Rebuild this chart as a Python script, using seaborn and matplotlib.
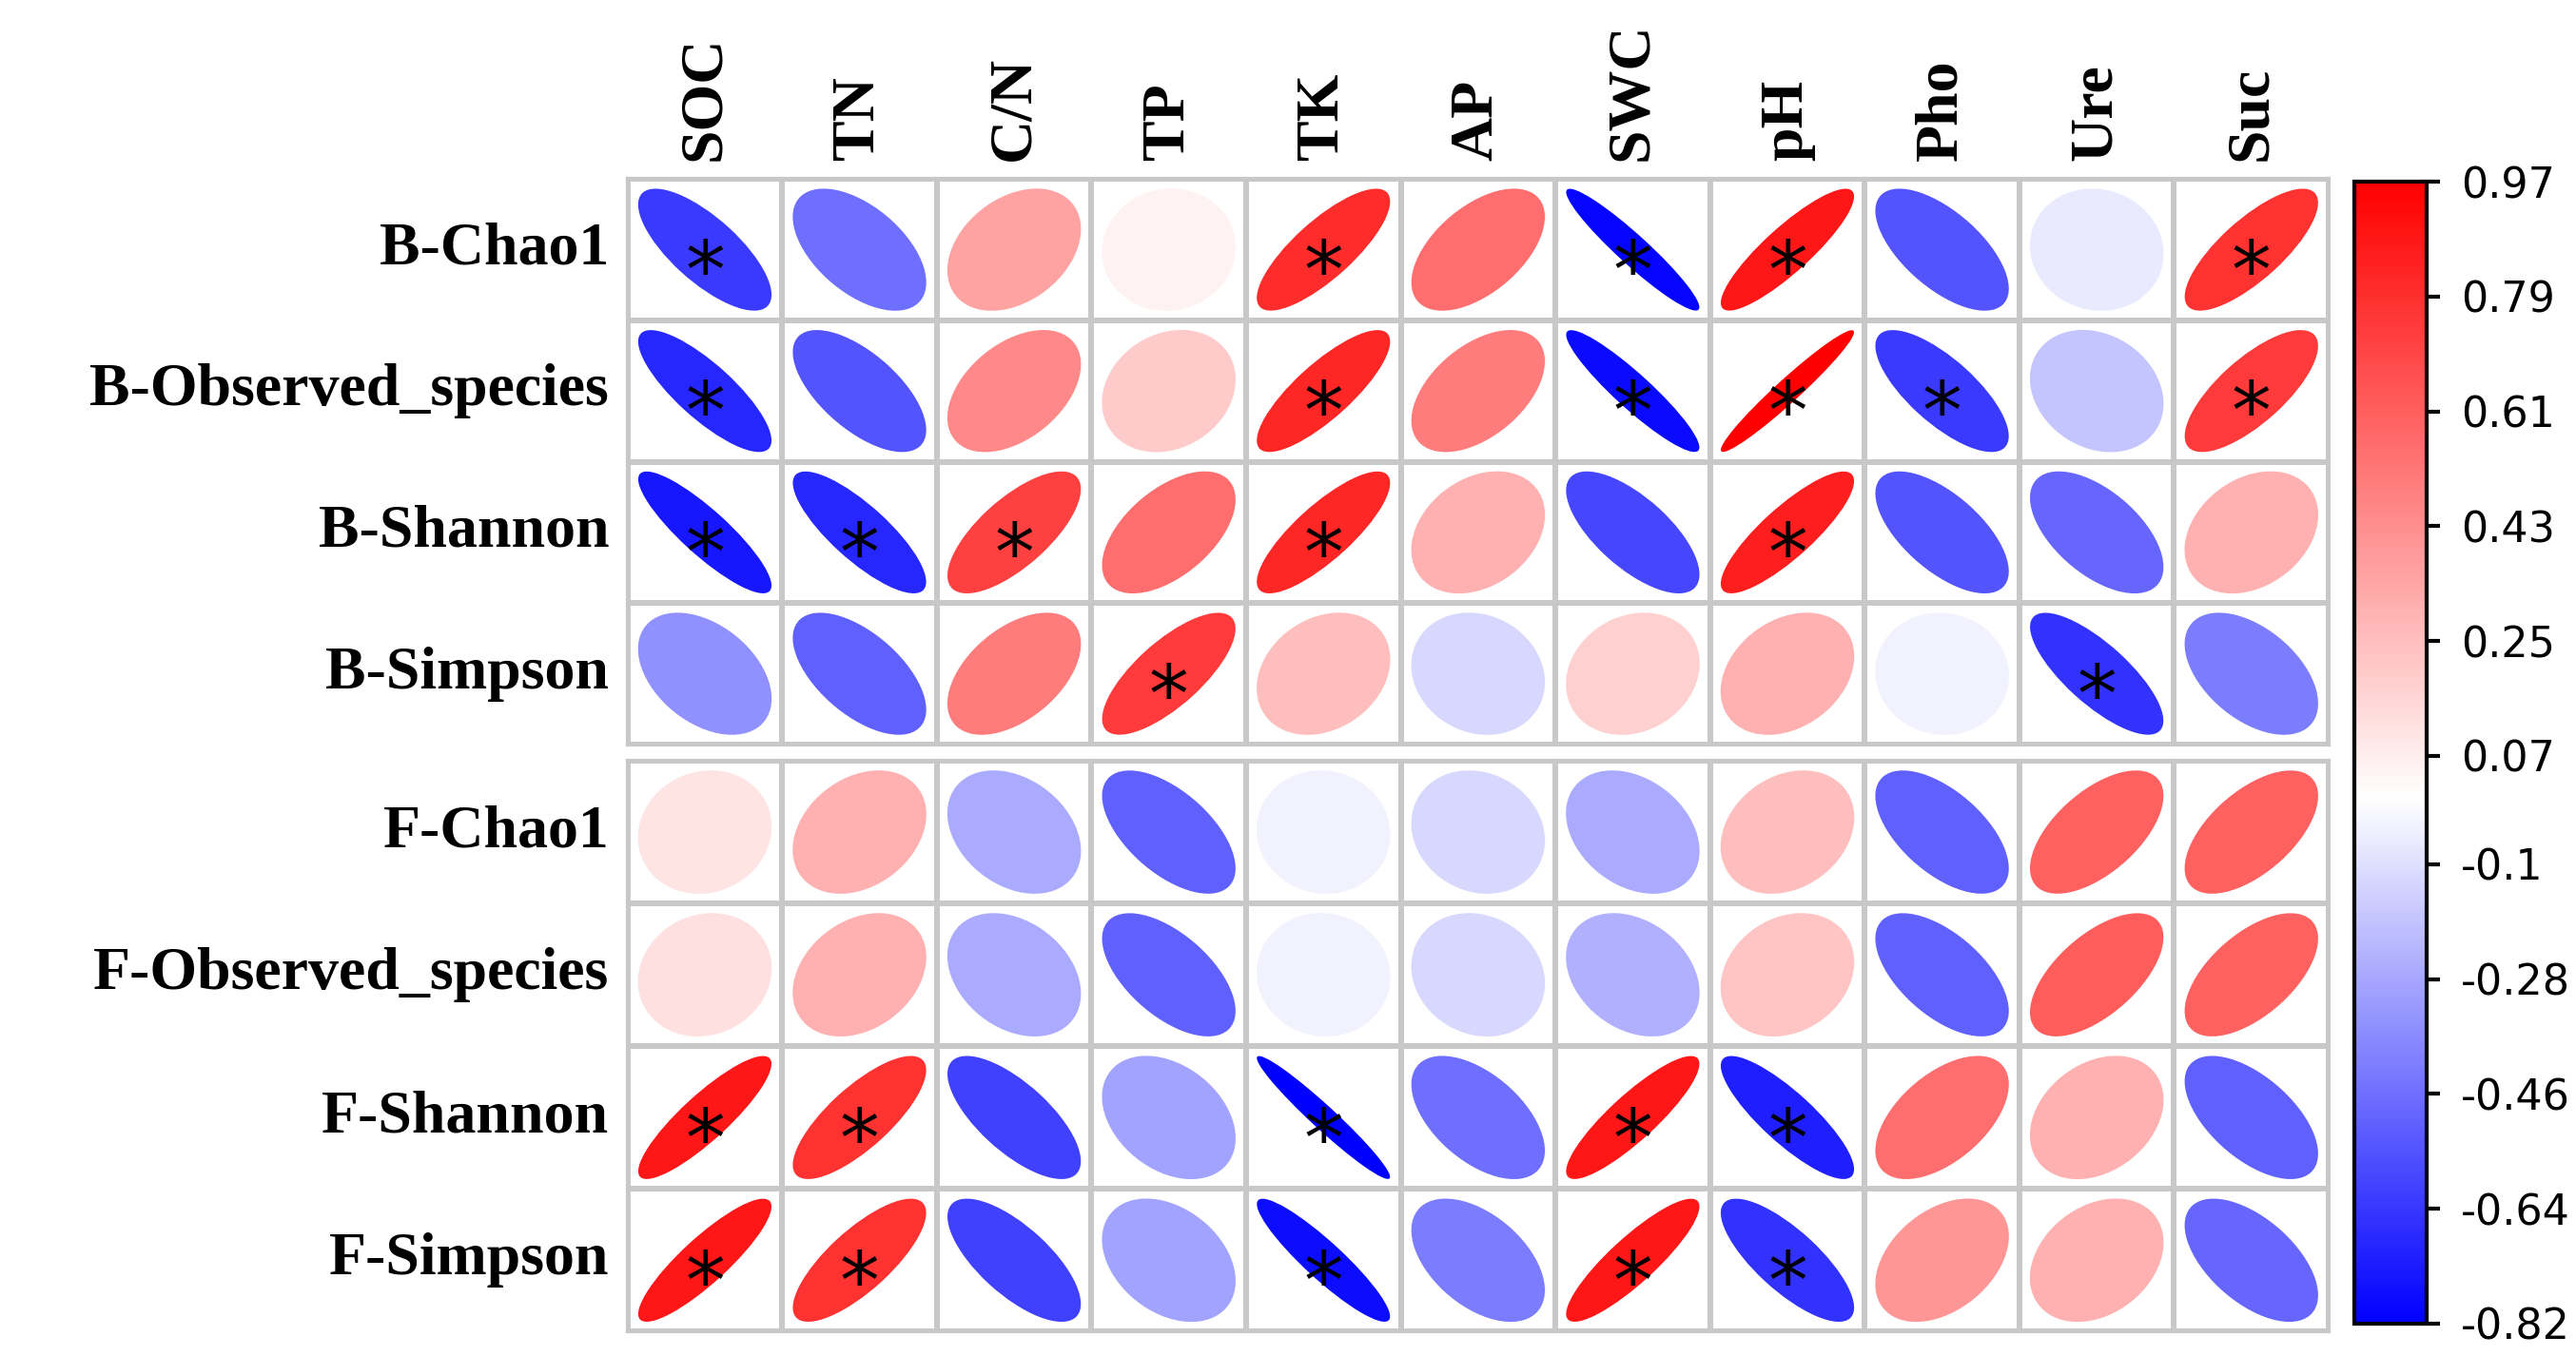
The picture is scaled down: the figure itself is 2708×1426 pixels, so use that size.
import numpy as np
import matplotlib
matplotlib.use("Agg")
import matplotlib.pyplot as plt
import seaborn as sns
from matplotlib.patches import Ellipse
from matplotlib.colors import LinearSegmentedColormap, Normalize

cols = ['SOC', 'TN', 'C/N', 'TP', 'TK', 'AP', 'SWC', 'pH', 'Pho', 'Ure', 'Suc']
rows_b = ['B-Chao1', 'B-Observed_species', 'B-Shannon', 'B-Simpson']
rows_f = ['F-Chao1', 'F-Observed_species', 'F-Shannon', 'F-Simpson']

r_b = [
    [-0.75, -0.55, 0.35, 0.05, 0.80, 0.55, -0.95, 0.88, -0.65, -0.08, 0.78],
    [-0.82, -0.65, 0.45, 0.20, 0.82, 0.50, -0.93, 0.97, -0.75, -0.22, 0.75],
    [-0.88, -0.82, 0.72, 0.55, 0.82, 0.30, -0.70, 0.85, -0.65, -0.58, 0.30],
    [-0.42, -0.60, 0.50, 0.75, 0.25, -0.15, 0.18, 0.30, -0.05, -0.78, -0.50],
]
sig_b = [
    [1, 0, 0, 0, 1, 0, 1, 1, 0, 0, 1],
    [1, 0, 0, 0, 1, 0, 1, 1, 1, 0, 1],
    [1, 1, 1, 0, 1, 0, 0, 1, 0, 0, 0],
    [0, 0, 0, 1, 0, 0, 0, 0, 0, 1, 0],
]
r_f = [
    [0.10, 0.30, -0.32, -0.60, -0.05, -0.15, -0.32, 0.25, -0.60, 0.60, 0.60],
    [0.12, 0.30, -0.32, -0.60, -0.05, -0.15, -0.30, 0.22, -0.60, 0.62, 0.60],
    [0.88, 0.78, -0.72, -0.35, -0.97, -0.55, 0.88, -0.85, 0.55, 0.30, -0.60],
    [0.88, 0.78, -0.72, -0.35, -0.92, -0.50, 0.88, -0.78, 0.40, 0.30, -0.58],
]
sig_f = [
    [0, 0, 0, 0, 0, 0, 0, 0, 0, 0, 0],
    [0, 0, 0, 0, 0, 0, 0, 0, 0, 0, 0],
    [1, 1, 0, 0, 1, 0, 1, 1, 0, 0, 0],
    [1, 1, 0, 0, 1, 0, 1, 1, 0, 0, 0],
]
cbar_ticks = [-0.82, -0.64, -0.46, -0.28, -0.1, 0.07, 0.25, 0.43, 0.61, 0.79, 0.97]

cmap = LinearSegmentedColormap.from_list('bwr2', ['#0000ff', '#ffffff', '#ff0000'])
norm = Normalize(vmin=-0.97, vmax=0.97)
serif = 'Liberation Serif'

fig = plt.figure(figsize=(27.08, 14.26), dpi=100)
ax_b = fig.add_axes([0.2436, 0.451, 0.6604, 0.417])
ax_f = fig.add_axes([0.2436, 0.018, 0.6604, 0.421])
cax = fig.add_axes([0.914, 0.024, 0.028, 0.842])


def draw_block(ax, vals, sig, rows, top):
    vals = np.array(vals)
    sns.heatmap(np.zeros_like(vals), ax=ax, cmap=['white'], cbar=False,
                linewidths=3, linecolor='#c8c8c8', xticklabels=cols, yticklabels=rows)
    for i in range(vals.shape[0]):
        for j in range(vals.shape[1]):
            r = vals[i, j]
            d = 0.86
            e = Ellipse((j + 0.5, i + 0.5), width=d * np.sqrt(1 + abs(r)),
                        height=d * np.sqrt(1 - abs(r)) + 0.01,
                        angle=-45 if r > 0 else 45, facecolor=cmap(norm(r)),
                        edgecolor='none')
            ax.add_patch(e)
            if sig[i][j]:
                ax.text(j + 0.5, i + 0.68, '*', ha='center', va='center',
                        fontsize=60, color='black')
    for s in ax.spines.values():
        s.set_visible(True)
        s.set_color('#c8c8c8')
        s.set_linewidth(3)
    ax.tick_params(length=0, pad=14)
    ax.set_yticklabels(rows, rotation=0, fontsize=46, fontweight='bold', family=serif)
    if top:
        ax.xaxis.tick_top()
        ax.set_xticklabels(cols, rotation=90, fontsize=46, fontweight='bold', family=serif)
    else:
        ax.set_xticks([])


draw_block(ax_b, r_b, sig_b, rows_b, True)
draw_block(ax_f, r_f, sig_f, rows_f, False)

sm = plt.cm.ScalarMappable(cmap=cmap, norm=Normalize(vmin=-0.82, vmax=0.97))
sm.set_cmap(LinearSegmentedColormap.from_list(
    'cb', [(0, '#0000ff'), (0.46, '#ffffff'), (1, '#ff0000')]))
cb = fig.colorbar(sm, cax=cax, ticks=cbar_ticks)
cb.ax.set_yticklabels([str(t) for t in cbar_ticks], fontsize=32)
cb.ax.tick_params(length=10, width=3, pad=16)
cb.outline.set_linewidth(3)

fig.savefig('out.png', dpi=100)
